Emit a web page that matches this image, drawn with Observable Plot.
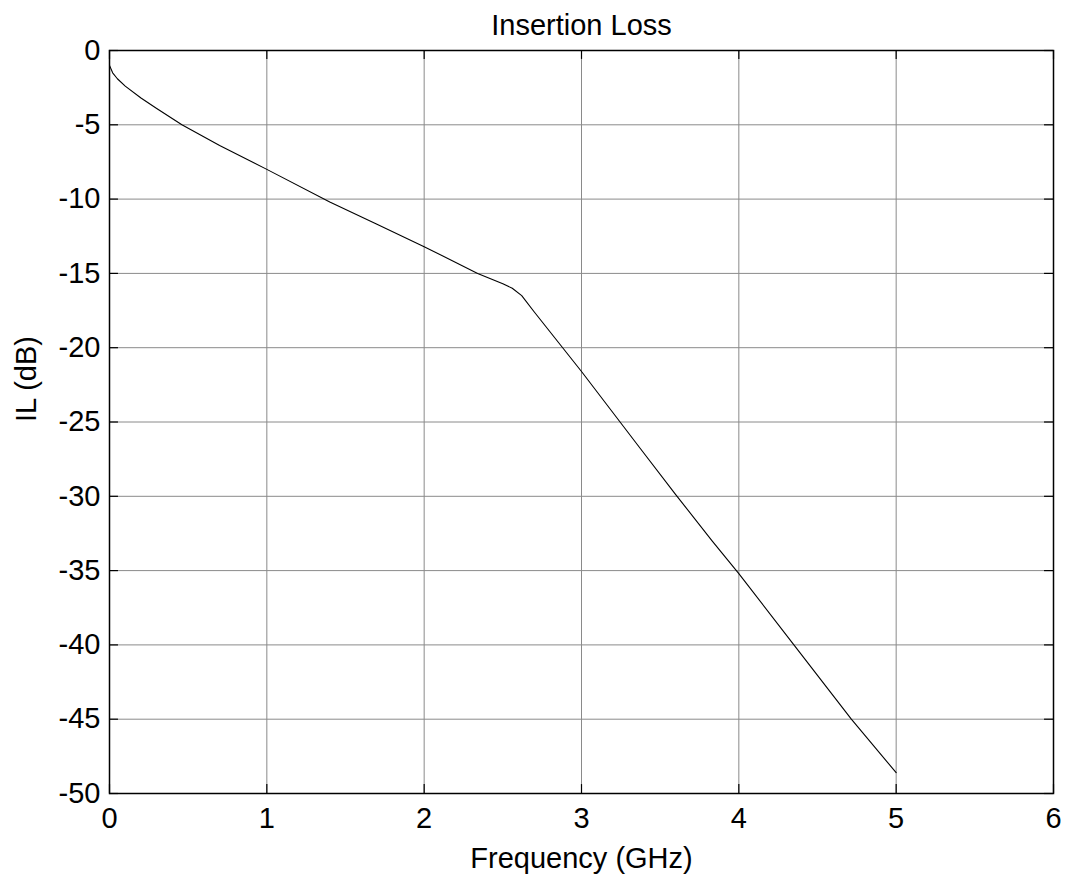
<!DOCTYPE html>
<html>
<head>
<meta charset="utf-8">
<script src="https://cdn.jsdelivr.net/npm/d3@7"></script>
<script src="https://cdn.jsdelivr.net/npm/@observablehq/plot@0.6"></script>
<style>
  html, body { margin: 0; padding: 0; background: #fff; }
</style>
</head>
<body>
<div id="chart"></div>
<script>
const freq = [0, 0.02, 0.05, 0.1, 0.2, 0.3, 0.46, 0.7, 1.0, 1.4, 1.7, 2.0, 2.34, 2.5, 2.56, 2.62, 2.7, 3.0, 3.375, 3.6, 3.83, 4.0, 4.35, 4.715, 5.0];
const il   = [-1.0, -1.5, -1.9, -2.4, -3.2, -3.9, -5.0, -6.4, -8.0, -10.2, -11.7, -13.2, -15.0, -15.7, -16.0, -16.5, -17.6, -21.6, -26.8, -29.9, -33.0, -35.2, -40.0, -45.0, -48.6];
const xTicks = [0, 1, 2, 3, 4, 5, 6];
const yTicks = [0, -5, -10, -15, -20, -25, -30, -35, -40, -45, -50];
const titleText = "Insertion Loss";
const xLabel = "Frequency (GHz)";
const yLabel = "IL (dB)";

const data = freq.map((f, i) => ({f, v: il[i]}));
const FS = 29;
const font = "Liberation Sans, Arial, Helvetica, sans-serif";
const gridColor = "#8a8a8a";

const chart = Plot.plot({
  width: 1065,
  height: 878,
  marginLeft: 109,
  marginRight: 12,
  marginTop: 50,
  marginBottom: 85,
  style: {fontFamily: font, fontSize: FS + "px", background: "#fff", color: "#000", overflow: "visible"},
  x: {domain: [0, 6]},
  y: {domain: [-50, 0]},
  marks: [
    Plot.ruleX(xTicks, {stroke: gridColor, strokeWidth: 1}),
    Plot.ruleY(yTicks, {stroke: gridColor, strokeWidth: 1}),
    // inward ticks on all four sides
    Plot.ruleX(xTicks, {x: d => d, y1: -50, y2: -49.4, stroke: "#000", strokeWidth: 1.2}),
    Plot.ruleX(xTicks, {x: d => d, y1: 0, y2: -0.6, stroke: "#000", strokeWidth: 1.2}),
    Plot.ruleY(yTicks, {y: d => d, x1: 0, x2: 0.057, stroke: "#000", strokeWidth: 1.2}),
    Plot.ruleY(yTicks, {y: d => d, x1: 6, x2: 5.943, stroke: "#000", strokeWidth: 1.2}),
    Plot.line(data, {x: "f", y: "v", stroke: "#000", strokeWidth: 1.1}),
    Plot.frame({stroke: "#000", strokeWidth: 1.5}),
    Plot.axisX(xTicks, {anchor: "bottom", tickSize: 0, tickPadding: 14, fontSize: FS, label: null, tickFormat: d => String(d)}),
    Plot.axisY(yTicks, {anchor: "left", tickSize: 0, tickPadding: 9, fontSize: FS, label: null, tickFormat: d => String(d)}),
    Plot.text([titleText], {frameAnchor: "top", dy: -16, lineAnchor: "bottom", fontSize: FS, fill: "#000"}),
    Plot.text([xLabel], {frameAnchor: "bottom", dy: 74, lineAnchor: "bottom", fontSize: FS, fill: "#000"}),
    Plot.text([yLabel], {frameAnchor: "left", dx: -74, rotate: -90, lineAnchor: "bottom", fontSize: FS, fill: "#000"})
  ]
});
document.getElementById("chart").appendChild(chart);
</script>
</body>
</html>
